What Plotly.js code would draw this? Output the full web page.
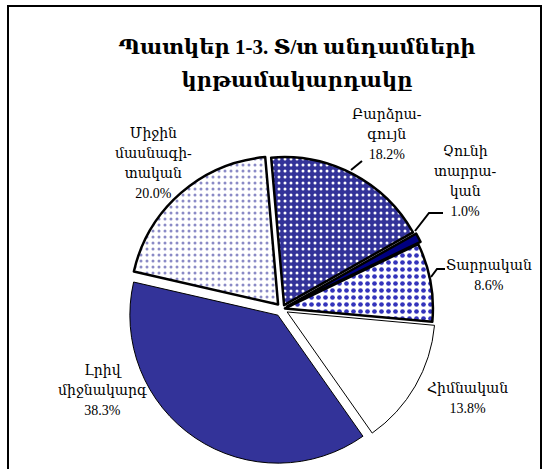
<!DOCTYPE html>
<html><head><meta charset="utf-8">
<script src="https://cdn.plot.ly/plotly-3.0.1.min.js"></script>
<style>html,body{margin:0;padding:0;background:#fff;}</style>
</head><body><div id="chart" style="width:544px;height:469px;"></div>
<script>
// ---- data ----
const categories = ["Բարձրագույն", "Չունի տարրական", "Տարրական", "Հիմնական", "Լրիվ միջնակարգ", "Միջին մասնագիտական"];
const labelLines = [["Բարձրա-", "գույն"], ["Չունի", "տարրա-", "կան"], ["Տարրական"], ["Հիմնական"], ["Լրիվ", "միջնակարգ"], ["Միջին", "մասնագի-", "տական"]];
const values = [18.2, 1.0, 8.6, 13.8, 38.3, 20.0];
const titleLines = ["Պատկեր 1-3. Տ/տ անդամների", "կրթամակարդակը"];

// ---- layout helpers ----
const W = 544, H = 469;
const px = x => x / W, py = y => 1 - y / H;
const FONT = "'Liberation Serif', 'DejaVu Serif', serif";

const pulls = [0.03, 0.04, 0.02, 0.04, 0.05, 0.04];
const maxPull = Math.max(...pulls);
const cx = 282, cy = 309, r = 148;
const R = r * (1 + maxPull);

const labelPos = [[387, 134], [465, 181], [489, 275], [467, 398], [102, 390], [153, 164]];
const leaders = [
  [[362, 161], [351, 170]],
  [[443, 213], [429, 213], [415, 231]],
  [[445, 269], [437, 269], [431, 277]]
];

const span = (t, s) => `<span style="font-size:${s}px">${t}</span>`;

const annotations = categories.map((c, i) => ({
  xref: 'paper', yref: 'paper',
  x: px(labelPos[i][0]), y: py(labelPos[i][1]),
  xanchor: 'center', yanchor: 'middle', align: 'center',
  showarrow: false,
  text: labelLines[i].concat([values[i].toFixed(1) + '%']).map(t => span(t, 14)).join('<br>'),
  font: {family: FONT, size: 15.5, color: '#000'}
}));

const shapes = leaders.map(pts => ({
  type: 'path', xref: 'paper', yref: 'paper',
  path: pts.map((p, k) => (k ? 'L' : 'M') + px(p[0]) + ',' + py(p[1])).join(' '),
  line: {color: '#000', width: 2}
}));
shapes.push({type: 'rect', xref: 'paper', yref: 'paper',
  x0: px(8), x1: px(541), y0: py(6), y1: py(490),
  line: {color: '#000', width: 2}, fillcolor: 'rgba(0,0,0,0)'});

const trace = {
  type: 'pie',
  labels: categories,
  values: values,
  sort: false,
  direction: 'clockwise',
  rotation: -5,
  textinfo: 'none',
  hoverinfo: 'label+percent',
  pull: pulls,
  domain: {x: [px(cx - R), px(cx + R)], y: [py(cy + R), py(cy - R)]},
  marker: {
    colors: ['#333399', '#000080', '#ffffff', '#ffffff', '#333399', '#ffffff'],
    line: {color: '#000000', width: [2.5, 2.5, 2.5, 1, 1, 2.5]},
    pattern: {
      shape: ['.', '', '.', '', '', '.'],
      fgcolor: ['#ffffff', '#000080', '#3333bb', '#ffffff', '#333399', '#8a8ac6'],
      bgcolor: ['#333399', '#000080', '#ffffff', '#ffffff', '#333399', '#ffffff'],
      size: [6, 6, 7, 6, 6, 6],
      solidity: [0.2, 0.3, 0.35, 0.3, 0.3, 0.2],
      fillmode: 'replace'
    }
  },
  showlegend: false
};

const layout = {
  width: W, height: H,
  margin: {l: 0, r: 0, t: 0, b: 0},
  paper_bgcolor: '#ffffff',
  showlegend: false,
  title: {
    text: titleLines.map(t => span(t, 21)).join('<br>'),
    font: {family: FONT, size: 25, color: '#000', weight: 'bold'},
    x: px(297), xanchor: 'center',
    y: py(54), yanchor: 'middle', yref: 'paper'
  },
  annotations: annotations,
  shapes: shapes
};

Plotly.newPlot('chart', [trace], layout, {staticPlot: true});
</script>
</body></html>
